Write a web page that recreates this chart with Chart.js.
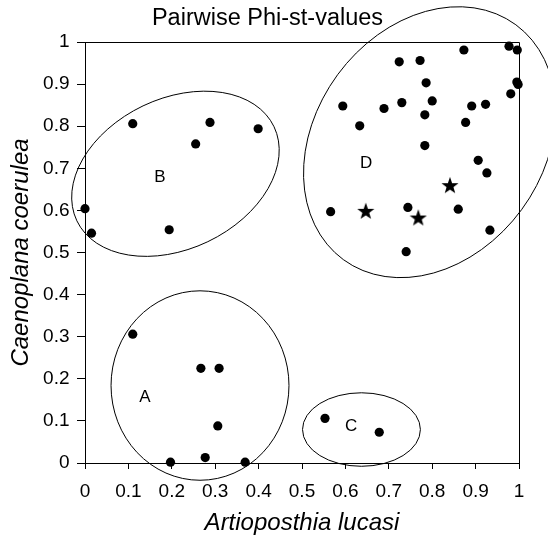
<!DOCTYPE html>
<html>
<head>
<meta charset="utf-8">
<script src="https://cdn.jsdelivr.net/npm/chart.js@4"></script>
<style>
  html, body { margin: 0; padding: 0; background: #fff; }
  #chart { display: block; }
</style>
</head>
<body>
<canvas id="chart" width="548" height="537"></canvas>
<script>
// tick labels, both axes go 0..1 in steps of 0.1
const tickLabels = ['0', '0.1', '0.2', '0.3', '0.4', '0.5', '0.6', '0.7', '0.8', '0.9', '1'];

// group A
const groupAx = [0.110, 0.267, 0.309, 0.306, 0.197, 0.277, 0.369];
const groupAy = [0.306, 0.225, 0.225, 0.088, 0.002, 0.013, 0.002];

// group B
const groupBx = [0.110, 0.288, 0.399, 0.255, 0.000, 0.015, 0.194];
const groupBy = [0.806, 0.809, 0.794, 0.758, 0.604, 0.546, 0.554];

// group C
const groupCx = [0.553, 0.678];
const groupCy = [0.106, 0.073];

// group D (dots)
const groupDx = [0.873, 0.977, 0.996, 0.724, 0.772, 0.786, 0.995, 0.998, 0.981, 0.594, 0.689, 0.730, 0.800,
                 0.891, 0.923, 0.783, 0.633, 0.877, 0.783, 0.906, 0.926, 0.566, 0.744, 0.860, 0.933, 0.740];
const groupDy = [0.981, 0.990, 0.981, 0.953, 0.956, 0.903, 0.905, 0.899, 0.877, 0.848, 0.842, 0.856, 0.860,
                 0.848, 0.852, 0.827, 0.801, 0.809, 0.754, 0.719, 0.689, 0.597, 0.607, 0.603, 0.553, 0.502];

// group D (stars)
const starX = [0.647, 0.768, 0.841];
const starY = [0.599, 0.583, 0.660];

// group outlines: centre, semi-axes (data units), rotation in degrees
const ellipseNames = ['A', 'B', 'C', 'D'];
const ellipseCx = [0.265, 0.2084, 0.637, 0.794];
const ellipseCy = [0.184, 0.687, 0.0795, 0.762];
const ellipseRx = [0.205, 0.2517, 0.1358, 0.3357];
const ellipseRy = [0.225, 0.1787, 0.0873, 0.271];
const ellipseRot = [0, -25.5, 0, -53.7];

// group letters
const letterX = [0.1382, 0.1728, 0.613, 0.6475];
const letterY = [0.157, 0.678, 0.087, 0.712];

const FONT = 'Arial, "Liberation Sans", sans-serif';

function toPoints(xs, ys) {
    return xs.map((x, i) => ({ x: x, y: ys[i] }));
}

// filled five-point star used as a point style
function makeStar(size) {
    const c = document.createElement('canvas');
    c.width = size;
    c.height = size;
    const g = c.getContext('2d');
    const cx = size / 2, cy = size / 2 + 0.8;
    const outer = size / 2, inner = outer * 0.4;
    g.beginPath();
    for (let i = 0; i < 10; i++) {
        const r = i % 2 === 0 ? outer : inner;
        const a = -Math.PI / 2 + i * Math.PI / 5;
        const px = cx + r * Math.cos(a), py = cy + r * Math.sin(a);
        if (i === 0) g.moveTo(px, py); else g.lineTo(px, py);
    }
    g.closePath();
    g.fillStyle = '#000';
    g.fill();
    return c;
}

const groupsPlugin = {
    id: 'groups',
    afterDraw(chart) {
        const { ctx, chartArea, scales: { x, y } } = chart;
        const pxX = x.getPixelForValue(1) - x.getPixelForValue(0);
        const pxY = y.getPixelForValue(0) - y.getPixelForValue(1);
        ctx.save();
        // frame top + right
        ctx.strokeStyle = '#000';
        ctx.lineWidth = 1;
        ctx.beginPath();
        ctx.moveTo(chartArea.left, Math.round(chartArea.top) + 0.5);
        ctx.lineTo(Math.round(chartArea.right) + 0.5, Math.round(chartArea.top) + 0.5);
        ctx.lineTo(Math.round(chartArea.right) + 0.5, chartArea.bottom);
        ctx.stroke();

        // ellipses
        ellipseNames.forEach((name, i) => {
            ctx.beginPath();
            ctx.ellipse(
                x.getPixelForValue(ellipseCx[i]),
                y.getPixelForValue(ellipseCy[i]),
                ellipseRx[i] * pxX,
                ellipseRy[i] * pxY,
                ellipseRot[i] * Math.PI / 180,
                0, Math.PI * 2
            );
            ctx.stroke();
        });

        // letters
        ctx.fillStyle = '#000';
        ctx.font = '17px ' + FONT;
        ctx.textAlign = 'center';
        ctx.textBaseline = 'middle';
        ellipseNames.forEach((name, i) => {
            ctx.fillText(name, x.getPixelForValue(letterX[i]), y.getPixelForValue(letterY[i]));
        });
        ctx.restore();
    }
};

const dotStyle = {
    backgroundColor: '#000',
    borderColor: '#000',
    borderWidth: 0,
    pointRadius: 4.6,
    pointHoverRadius: 4.6,
    clip: false
};

const axisBase = {
    type: 'linear',
    min: 0,
    max: 1,
    grid: {
        drawOnChartArea: false,
        drawTicks: true,
        color: '#000'
    },
    border: { display: true, color: '#000', width: 1 }
};

new Chart(document.getElementById('chart'), {
    type: 'scatter',
    data: {
        datasets: [
            Object.assign({ label: 'A', data: toPoints(groupAx, groupAy) }, dotStyle),
            Object.assign({ label: 'B', data: toPoints(groupBx, groupBy) }, dotStyle),
            Object.assign({ label: 'C', data: toPoints(groupCx, groupCy) }, dotStyle),
            Object.assign({ label: 'D', data: toPoints(groupDx, groupDy) }, dotStyle),
            {
                label: 'D stars',
                data: toPoints(starX, starY),
                pointStyle: makeStar(18),
                pointRadius: 9,
                backgroundColor: '#000',
                borderColor: '#000',
                clip: false
            }
        ]
    },
    options: {
        responsive: false,
        animation: false,
        events: [],
        layout: { padding: { left: 16, right: 29, top: 0, bottom: 0 } },
        plugins: {
            legend: { display: false },
            tooltip: { enabled: false },
            title: {
                display: true,
                text: 'Pairwise Phi-st-values',
                color: '#000',
                font: { family: FONT, size: 23.5, weight: 'normal', lineHeight: 1.2 },
                padding: { top: 4.5, bottom: 9.3 }
            }
        },
        scales: {
            x: Object.assign({}, axisBase, {
                grid: Object.assign({}, axisBase.grid, { tickLength: 6 }),
                ticks: {
                    stepSize: 0.1,
                    color: '#000',
                    padding: 11,
                    maxRotation: 0,
                    autoSkip: false,
                    font: { family: FONT, size: 19 },
                    callback: (v, i) => tickLabels[i]
                },
                title: {
                    display: true,
                    text: 'Artioposthia lucasi',
                    color: '#000',
                    font: { family: FONT, size: 24, style: 'italic' },
                    padding: { top: 0, bottom: -1 }
                },
                afterFit(scale) { scale.height = 74; }
            }),
            y: Object.assign({}, axisBase, {
                grid: Object.assign({}, axisBase.grid, { tickLength: 8 }),
                ticks: {
                    stepSize: 0.1,
                    color: '#000',
                    padding: 7.5,
                    autoSkip: false,
                    font: { family: FONT, size: 19 },
                    callback: (v, i) => tickLabels[i]
                },
                title: {
                    display: true,
                    text: 'Caenoplana coerulea',
                    color: '#000',
                    font: { family: FONT, size: 24, style: 'italic' },
                    padding: { top: -9.4, bottom: 0 }
                },
                afterFit(scale) { scale.width = 69; }
            })
        }
    },
    plugins: [groupsPlugin]
});
</script>
</body>
</html>
